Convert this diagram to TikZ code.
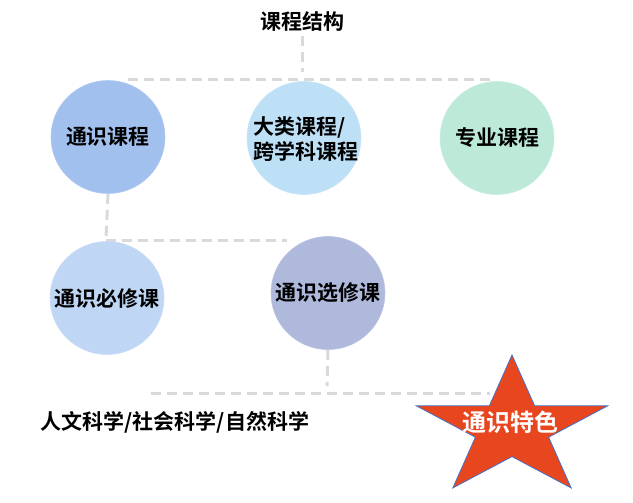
\documentclass[tikz,border=0pt]{standalone}
\usepackage{fontspec}
\setmainfont{Noto Sans CJK SC}[BoldFont={Noto Sans CJK SC Bold}]
\usetikzlibrary{shapes.geometric}
\definecolor{generalblue}{HTML}{A2C0EE}
\definecolor{broadblue}{HTML}{BDE0F6}
\definecolor{majorgreen}{HTML}{BDEAD8}
\definecolor{requiredblue}{HTML}{BFD6F4}
\definecolor{electivepurple}{HTML}{AFB9DC}
\definecolor{starred}{HTML}{E8461F}
\definecolor{staredge}{HTML}{4472C4}
\definecolor{linkgray}{HTML}{D9D9D9}
\begin{document}
\begin{tikzpicture}[x=1pt,y=-1pt,
  link/.style={draw=linkgray,line width=3pt,dash pattern=on 10pt off 6pt},
  course/.style={ellipse,fill=#1,draw=#1!85!white,line width=0.6pt,minimum width=114pt,minimum height=113pt,inner sep=0pt},
  label/.style={font=\bfseries\fontsize{21}{25}\selectfont,inner sep=0pt},
  starbody/.style={fill=starred,draw=staredge,line width=0.8pt}]
\useasboundingbox (0,0) rectangle (633,503);

\node[label] (title) at (302,22) {课程结构};
\coordinate (titledown) at (302,72);
\coordinate (topleft) at (128,80);
\coordinate (topright) at (490,80);
\draw[link] (title.south) ++(0,4) -- (titledown);
\draw[link] (topleft) -- (topright);

\coordinate (generaldown) at (106,238);
\coordinate (midright) at (287,240);
\coordinate (electivedown) at (327,386);
\coordinate (lowleft) at (151,393);
\coordinate (lowright) at (490,393);

\node[course=generalblue] (general) at (108,137) {};
\node[course=broadblue] (broad) at (304,138) {};
\node[course=majorgreen] (major) at (497,138) {};
\node[label] (generaltext) at (general) {通识课程};
\node[label,align=left] (broadtext) at (306,139) {大类课程/\\跨学科课程};
\node[label] (majortext) at (major) {专业课程};

\draw[link] (general.south) -- (generaldown);
\draw[link] (generaldown |- midright) -- (midright);

\node[course=requiredblue] (required) at (107,298) {};
\node[course=electivepurple] (elective) at (328,293) {};
\node[label] (requiredtext) at (required) {通识必修课};
\node[label] (electivetext) at (elective) {通识选修课};

\draw[link] (elective.south) -- (electivedown);
\draw[link] (lowleft) -- (lowright);

\node[label] (fields) at (175,422) {人文科学/社会科学/自然科学};

\begin{scope}[shift={(512,428.5)},xscale=1.37]
\draw[starbody] (-90:73.5) -- (-54:28.1) -- (-18:73.5) -- (18:28.1) -- (54:73.5) -- (90:28.1) -- (126:73.5) -- (162:28.1) -- (198:73.5) -- (234:28.1) -- cycle;
\end{scope}
\node[label,text=white,font=\bfseries\fontsize{24}{28}\selectfont] (feature) at (510,422) {通识特色};
\end{tikzpicture}
\end{document}
